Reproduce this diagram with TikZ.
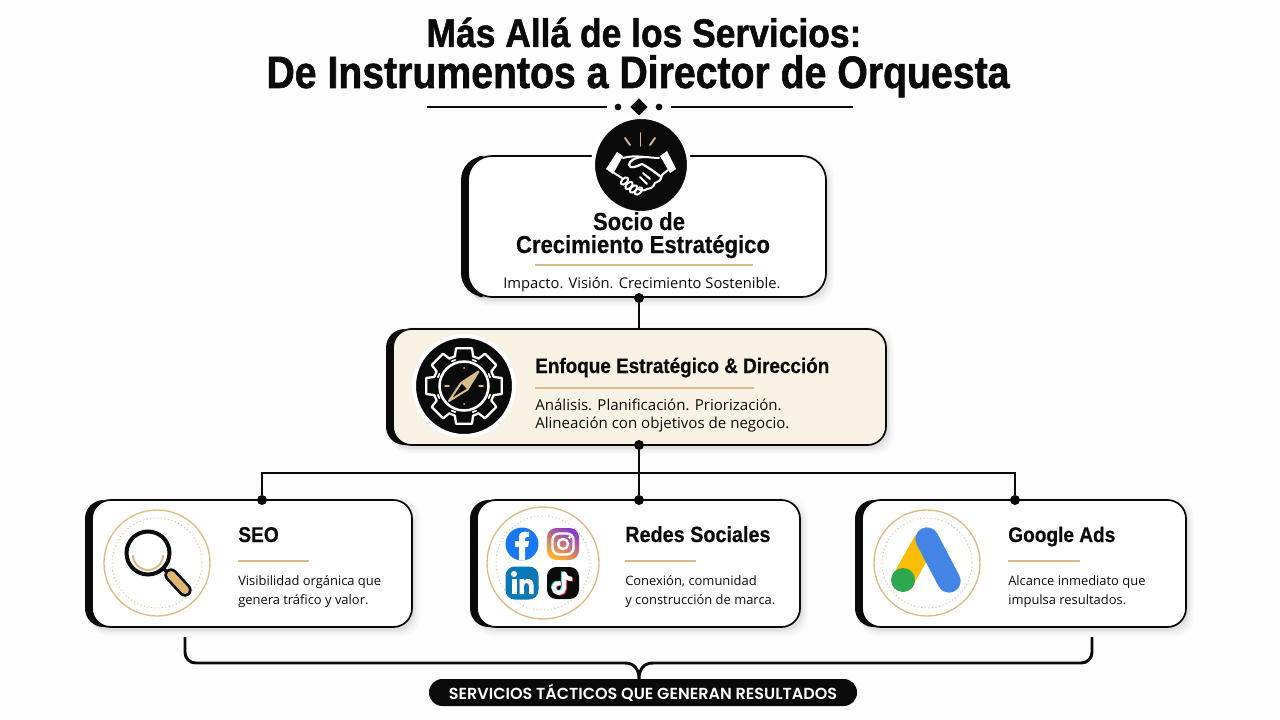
\documentclass[tikz,border=0pt]{standalone}
\usepackage{fontspec}
\usetikzlibrary{shapes.geometric,calc}
\setmainfont{Open Sans}
\newfontfamily\ti[FakeStretch=0.885,FakeBold=1.2]{Liberation Sans Bold}
\newfontfamily\tj[FakeStretch=0.865,FakeBold=1.2]{Liberation Sans Bold}
\newfontfamily\hd[FakeStretch=0.9,FakeBold=0.4]{Liberation Sans Bold}
\newfontfamily\pl{Poppins SemiBold}
\definecolor{gold}{HTML}{D8BC88}
\definecolor{cream}{HTML}{F8F2E4}
\definecolor{ink}{HTML}{0A0A0A}
\definecolor{fbblue}{HTML}{1877F2}
\definecolor{igb}{HTML}{FDB12F}
\definecolor{igm}{HTML}{EE2A6B}
\definecolor{igt}{HTML}{8A3AC9}
\definecolor{liblue}{HTML}{0A78B5}
\definecolor{ttc}{HTML}{25F4EE}
\definecolor{ttr}{HTML}{FE2C55}
\definecolor{gy}{HTML}{FBBC04}
\definecolor{gg}{HTML}{2EA84F}
\definecolor{gb}{HTML}{4285E4}
\definecolor{lenshandle}{HTML}{DDB66F}
\tikzset{
  txt/.style={inner sep=0pt,text=ink},
  dot/.style={circle,fill=ink,inner sep=0pt,minimum size=7.5pt},
  conn/.style={draw=ink,line width=2pt},
  rule/.style={draw=gold,line width=1.1pt},
  ttl/.style={txt,anchor=base},
  head/.style={txt,anchor=base west,font=\hd\fontsize{16.5pt}{18pt}\selectfont},
  body/.style={txt,anchor=base west,font=\fontsize{9.7pt}{13pt}\selectfont},
  wl/.style={draw=white,line width=1.5pt,line cap=round,line join=round},
  gl/.style={draw=gold,line width=1.3pt,line cap=round,line join=round},
  badge/.style={circle,fill=ink,draw=white,line width=3pt,minimum size=72pt,inner sep=0pt},
  medal/.style={circle,draw=gold,line width=1pt,fill=white,inner sep=0pt},
  card/.style={rectangle,draw=ink,line width=1.3pt,inner sep=0pt},
}
% name, x1,y1,x2,y2, radius, fill
\newcommand{\cardbox}[7]{%
  \foreach \k/\o in {7/.02,5/.025,3/.03,1.5/.04}{%
    \fill[black,opacity=\o,rounded corners=#6] (#2+5,#3+5-\k) rectangle (#4+1+\k,#5+2+\k);}
  \fill[ink,rounded corners=#6] (#2,#3) rectangle (#2+40,#5);
  \path[card,fill=#7,rounded corners=#6] (#2+7,#3) rectangle (#4,#5);
  \node[inner sep=0pt,minimum size=0pt] (#1) at ({(#2+#4)/2},{(#3+#5)/2}) {};
}
\begin{document}
\begin{tikzpicture}[x=0.75pt,y=-0.75pt]
\useasboundingbox (0,0) rectangle (1280,720);
\fill[white!99.4!black] (0,0) rectangle (1280,720);

% title
\node[ttl,font=\ti\fontsize{30pt}{32pt}\selectfont,text height=0.8em,text depth=0pt] (t1) at (644,47) {Más Allá de los Servicios:};
\node[ttl,font=\tj\fontsize{34pt}{36pt}\selectfont,text height=0.74em] (t2) at (638,88) {De Instrumentos a Director de Orquesta};
% divider
\coordinate (dl1) at (427,107); \coordinate (dl2) at (607,107);
\coordinate (dr1) at (671,107); \coordinate (dr2) at (853,107);
\draw[ink,line width=1.3pt] (dl1) -- (dl2);
\draw[ink,line width=1.3pt] (dr1) -- (dr2);
\node[dot,minimum size=5pt] (dv1) at (618,107) {};
\node[dot,minimum size=5pt] (dv2) at (659,107) {};
\node[diamond,fill=ink,inner sep=0pt,minimum size=13pt] (dv3) at (639,107) {};

% cards
\cardbox{socio}{461}{156}{826}{297}{18}{white}
\cardbox{enfoque}{386}{329}{886}{445}{14}{cream}
\cardbox{seo}{85}{500}{412}{627}{14}{white}
\cardbox{redes}{470}{500}{800}{627}{14}{white}
\cardbox{gads}{855}{500}{1186}{627}{14}{white}

% connectors
\coordinate (a2) at (639,329);
\node[dot] (a1) at (639,298) {};
\node[dot] (b1) at (639,445) {};
\node[dot] (b2) at (639,500) {};
\node[dot] (cl) at (262,500) {};
\node[dot] (cr) at (1015,500) {};
\coordinate (jl) at (262,473);
\coordinate (jr) at (1015,473);
\draw[conn] (a1) -- (a2);
\draw[conn] (b1) -- (b2);
\draw[conn] (cl) -- (jl) -- (jr) -- (cr);

% socio
\node[badge] (hs) at (641,165) {};
\begin{scope}[shift={(641,164)}]
  \foreach \a/\b/\c/\d in {-0.5/-18/-0.5/-31, -11/-19/-16/-26, 9/-19/14/-26}
    \draw[gl,line width=1.4pt] (\a,\b) -- (\c,\d);
  \fill[white] (-24,-12) -- (-18,-8) -- (-28,10) -- (-35,5) -- cycle;
  \fill[white] (19,-8) -- (26,-13) -- (35,5) -- (29,9) -- cycle;
  \draw[wl] (-18,-6) .. controls (-10,-8) and (-6,-8) .. (3,-7) .. controls (8,-7) and (12,-6) .. (18,-6);
  \draw[wl,line width=1.7pt] (3,-7) .. controls (-6,-7) and (-12,-3) .. (-12,1) .. controls (-11,5) and (-5,3) .. (1,0) .. controls (10,5) and (15,9) .. (20,13);
  \draw[wl] (27,6) -- (21,11) .. controls (20,17) and (17,18) .. (14,19) .. controls (12,24) and (9,25) .. (6,25) .. controls (3,27) and (1,27) .. (-3,25);
  \draw[wl] (-27,9) -- (-19,14);
  \foreach \x/\y in {-16.5/17,-12/21.5,-7.5/25,-2.5/27}
    \draw[wl,rotate around={45:(\x,\y)}] (\x,\y) ellipse (4.5 and 2.6);
  \draw[wl] (2,9) -- (9,15); \draw[wl] (-1,13) -- (6,20);
\end{scope}
\node[txt,anchor=base,font=\hd\fontsize{18.4pt}{20pt}\selectfont] (s1) at (639,230) {Socio de};
\node[txt,anchor=base,font=\hd\fontsize{18.4pt}{20pt}\selectfont] (s2) at (643,253) {Crecimiento Estratégico};
\coordinate (s3a) at (535,265); \coordinate (s3b) at (753,265);
\draw[rule] (s3a) -- (s3b);
\node[txt,anchor=base,font=\fontsize{11.05pt}{14pt}\selectfont] (s4) at (642,288) {Impacto. Visión. Crecimiento Sostenible.};

% enfoque
\node[badge,line width=3pt,minimum size=75pt] (gear) at (464,386) {};
\begin{scope}[shift={(464,386)}]
  \draw[wl,line width=1.7pt] (-102:38.5)
    \foreach \q in {-90,-45,0,45,90,135,180,225} {
      -- ({\q-12}:38.5) -- ({\q+12}:38.5) -- ({\q+17}:31) -- ({\q+28}:31) } -- cycle;
  \draw[wl,line width=1.9pt] (0,0) circle (24.5);
  \foreach \q in {-67.5,-22.5,22.5,67.5,112.5,157.5,202.5,247.5}
    \draw[wl,line width=1.3pt] ({\q-4}:27.5) -- ({\q+4}:27.5);
  \foreach \q in {0,180} \draw[gl,line width=1pt] (\q:19) -- (\q:15);
  \foreach \q in {90,270} \fill[gold] (\q:18) circle (1);
  \draw[gl,line width=1.5pt] (14.5,-14.5) -- (3.5,3.5) -- (-15,15) -- (-3,-3) -- cycle;
  \fill[gold] (14.5,-14.5) -- (3.5,3.5) -- (-3,-3) -- cycle;
  \fill[ink] (-11,11) -- (1.5,2.5) -- (-2,-1.5) -- cycle;
\end{scope}
\node[head,font=\hd\fontsize{15.75pt}{18pt}\selectfont] (e1) at (535,373) {Enfoque Estratégico \& Dirección};
\coordinate (e2a) at (535,388); \coordinate (e2b) at (754,388);
\draw[rule,line width=.9pt] (e2a) -- (e2b);
\node[txt,anchor=base west,font=\fontsize{11.3pt}{14pt}\selectfont] (e3) at (535,410) {Análisis. Planificación. Priorización.};
\node[txt,anchor=base west,font=\fontsize{11.3pt}{14pt}\selectfont] (e4) at (535,428.5) {Alineación con objetivos de negocio.};

% SEO
\node[medal,minimum size=79.5pt] (m1) at (157,563) {};
\draw[gold,line width=.7pt,dotted] (157,563) circle (45);
\draw[gold,line width=1.5pt] (133,555) arc[start angle=180,end angle=0,x radius=15,y radius=15];
\draw[ink,line width=3pt] (148,553) circle (21.5);
\draw[ink,line width=2.5pt] (164,569) -- (170,575);
\draw[ink,line width=10pt,line cap=round] (171,575) -- (185,590);
\draw[lenshandle,line width=6pt,line cap=round] (171,575) -- (185,590);
\node[head,font=\hd\fontsize{16pt}{18pt}\selectfont] (h1) at (238,542) {SEO};
\coordinate (r1a) at (238,561); \coordinate (r1b) at (309,561);
\draw[rule] (r1a) -- (r1b);
\node[body] (b11) at (238,585) {Visibilidad orgánica que};
\node[body] (b12) at (238,604) {genera tráfico y valor.};

% Redes
\node[medal,minimum size=84pt] (m2) at (543,563) {};
\draw[gold,line width=.7pt,dotted] (543,563) circle (47);
% facebook
\begin{scope}[shift={(522,544)}]
  \fill[fbblue] (0,0) circle (16.5);
  \clip (0,0) circle (16.5);
  \fill[white] (-3,17) -- (-3,3) -- (-7,3) -- (-7,-3) -- (-3,-3) -- (-3,-7) .. controls (-3,-12) and (1,-13) .. (7,-12) -- (7,-7) .. controls (3,-7.5) and (3,-6) .. (3,-3) -- (7,-3) -- (6,3) -- (3,3) -- (3,17) -- cycle;
\end{scope}
% instagram
\begin{scope}[shift={(563,544)}]
  \shade[rounded corners=7,bottom color=igb,middle color=igm,top color=igt,shading angle=-30] (-16,-16) rectangle (16,16);
  \draw[white,line width=1.8pt,rounded corners=5] (-10.5,-10.5) rectangle (10.5,10.5);
  \draw[white,line width=1.8pt] (0,0) circle (5);
  \fill[white] (6.5,-6.5) circle (1.5);
\end{scope}
% linkedin
\begin{scope}[shift={(522,583)}]
  \fill[liblue,rounded corners=7] (-16.5,-16.5) rectangle (16.5,16.5);
  \fill[white] (-10.5,-4) rectangle (-5.5,11);
  \fill[white] (-8,-9) circle (3);
  \fill[white] (-2.5,-4) -- (2,-4) -- (2,-2) .. controls (4,-5) and (11,-6) .. (11.5,2) -- (11.5,11) -- (7,11) -- (7,3) .. controls (7,-1) and (2,-1) .. (2,3) -- (2,11) -- (-2.5,11) -- cycle;
\end{scope}
% tiktok
\begin{scope}[shift={(563,583)}]
  \fill[ink,rounded corners=7] (-16,-16) rectangle (16,16);
  \foreach \c/\dx/\dy in {ttc/-1/-.6,ttr/1/.6,white/0/0}
    \draw[\c,line width=3pt] (1+\dx,-11+\dy) -- (1+\dx,5+\dy) arc[start angle=0,end angle=290,radius=5] (1+\dx,-10+\dy) .. controls (2+\dx,-6+\dy) and (5+\dx,-4+\dy) .. (9+\dx,-4+\dy);
\end{scope}
\node[head] (h2) at (625,542) {Redes Sociales};
\coordinate (r2a) at (625,561); \coordinate (r2b) at (696,561);
\draw[rule] (r2a) -- (r2b);
\node[body] (b21) at (625,585) {Conexión, comunidad};
\node[body] (b22) at (625,604) {y construcción de marca.};

% Google
\node[medal,minimum size=79.5pt] (m3) at (927,563) {};
\draw[gold,line width=.7pt,dotted] (927,563) circle (45);
\draw[gy,line width=17pt] (925,541) -- (903,580);
\fill[gg] (903,580) circle (12);
\draw[gb,line width=17.5pt,line cap=round] (927,539) -- (949,581);
\node[head,font=\hd\fontsize{15.9pt}{18pt}\selectfont] (h3) at (1008,542) {Google Ads};
\coordinate (r3a) at (1008,561); \coordinate (r3b) at (1080,561);
\draw[rule] (r3a) -- (r3b);
\node[body] (b31) at (1008,585) {Alcance inmediato que};
\node[body] (b32) at (1008,604) {impulsa resultados.};

% bracket & pill
\node[rectangle,rounded corners=10pt,fill=ink,minimum width=321pt,minimum height=20.25pt,inner sep=0pt,text=white,font=\pl\fontsize{12pt}{14pt}\selectfont] (pill) at (643,692.5) {SERVICIOS TÁCTICOS QUE GENERAN RESULTADOS};
\coordinate (bl) at (185,637); \coordinate (br) at (1092,637);
\coordinate (bc) at (639,679);
\draw[ink,line width=2.2pt,rounded corners=8pt] (bl) -- (185,663) -- (625,663);
\draw[ink,line width=2.2pt,rounded corners=8pt] (br) -- (1092,663) -- (653,663);
\draw[ink,line width=2.2pt] (625,663) .. controls (634,663) and (639,669) .. (bc) .. controls (639,669) and (644,663) .. (653,663);
\end{tikzpicture}
\end{document}
